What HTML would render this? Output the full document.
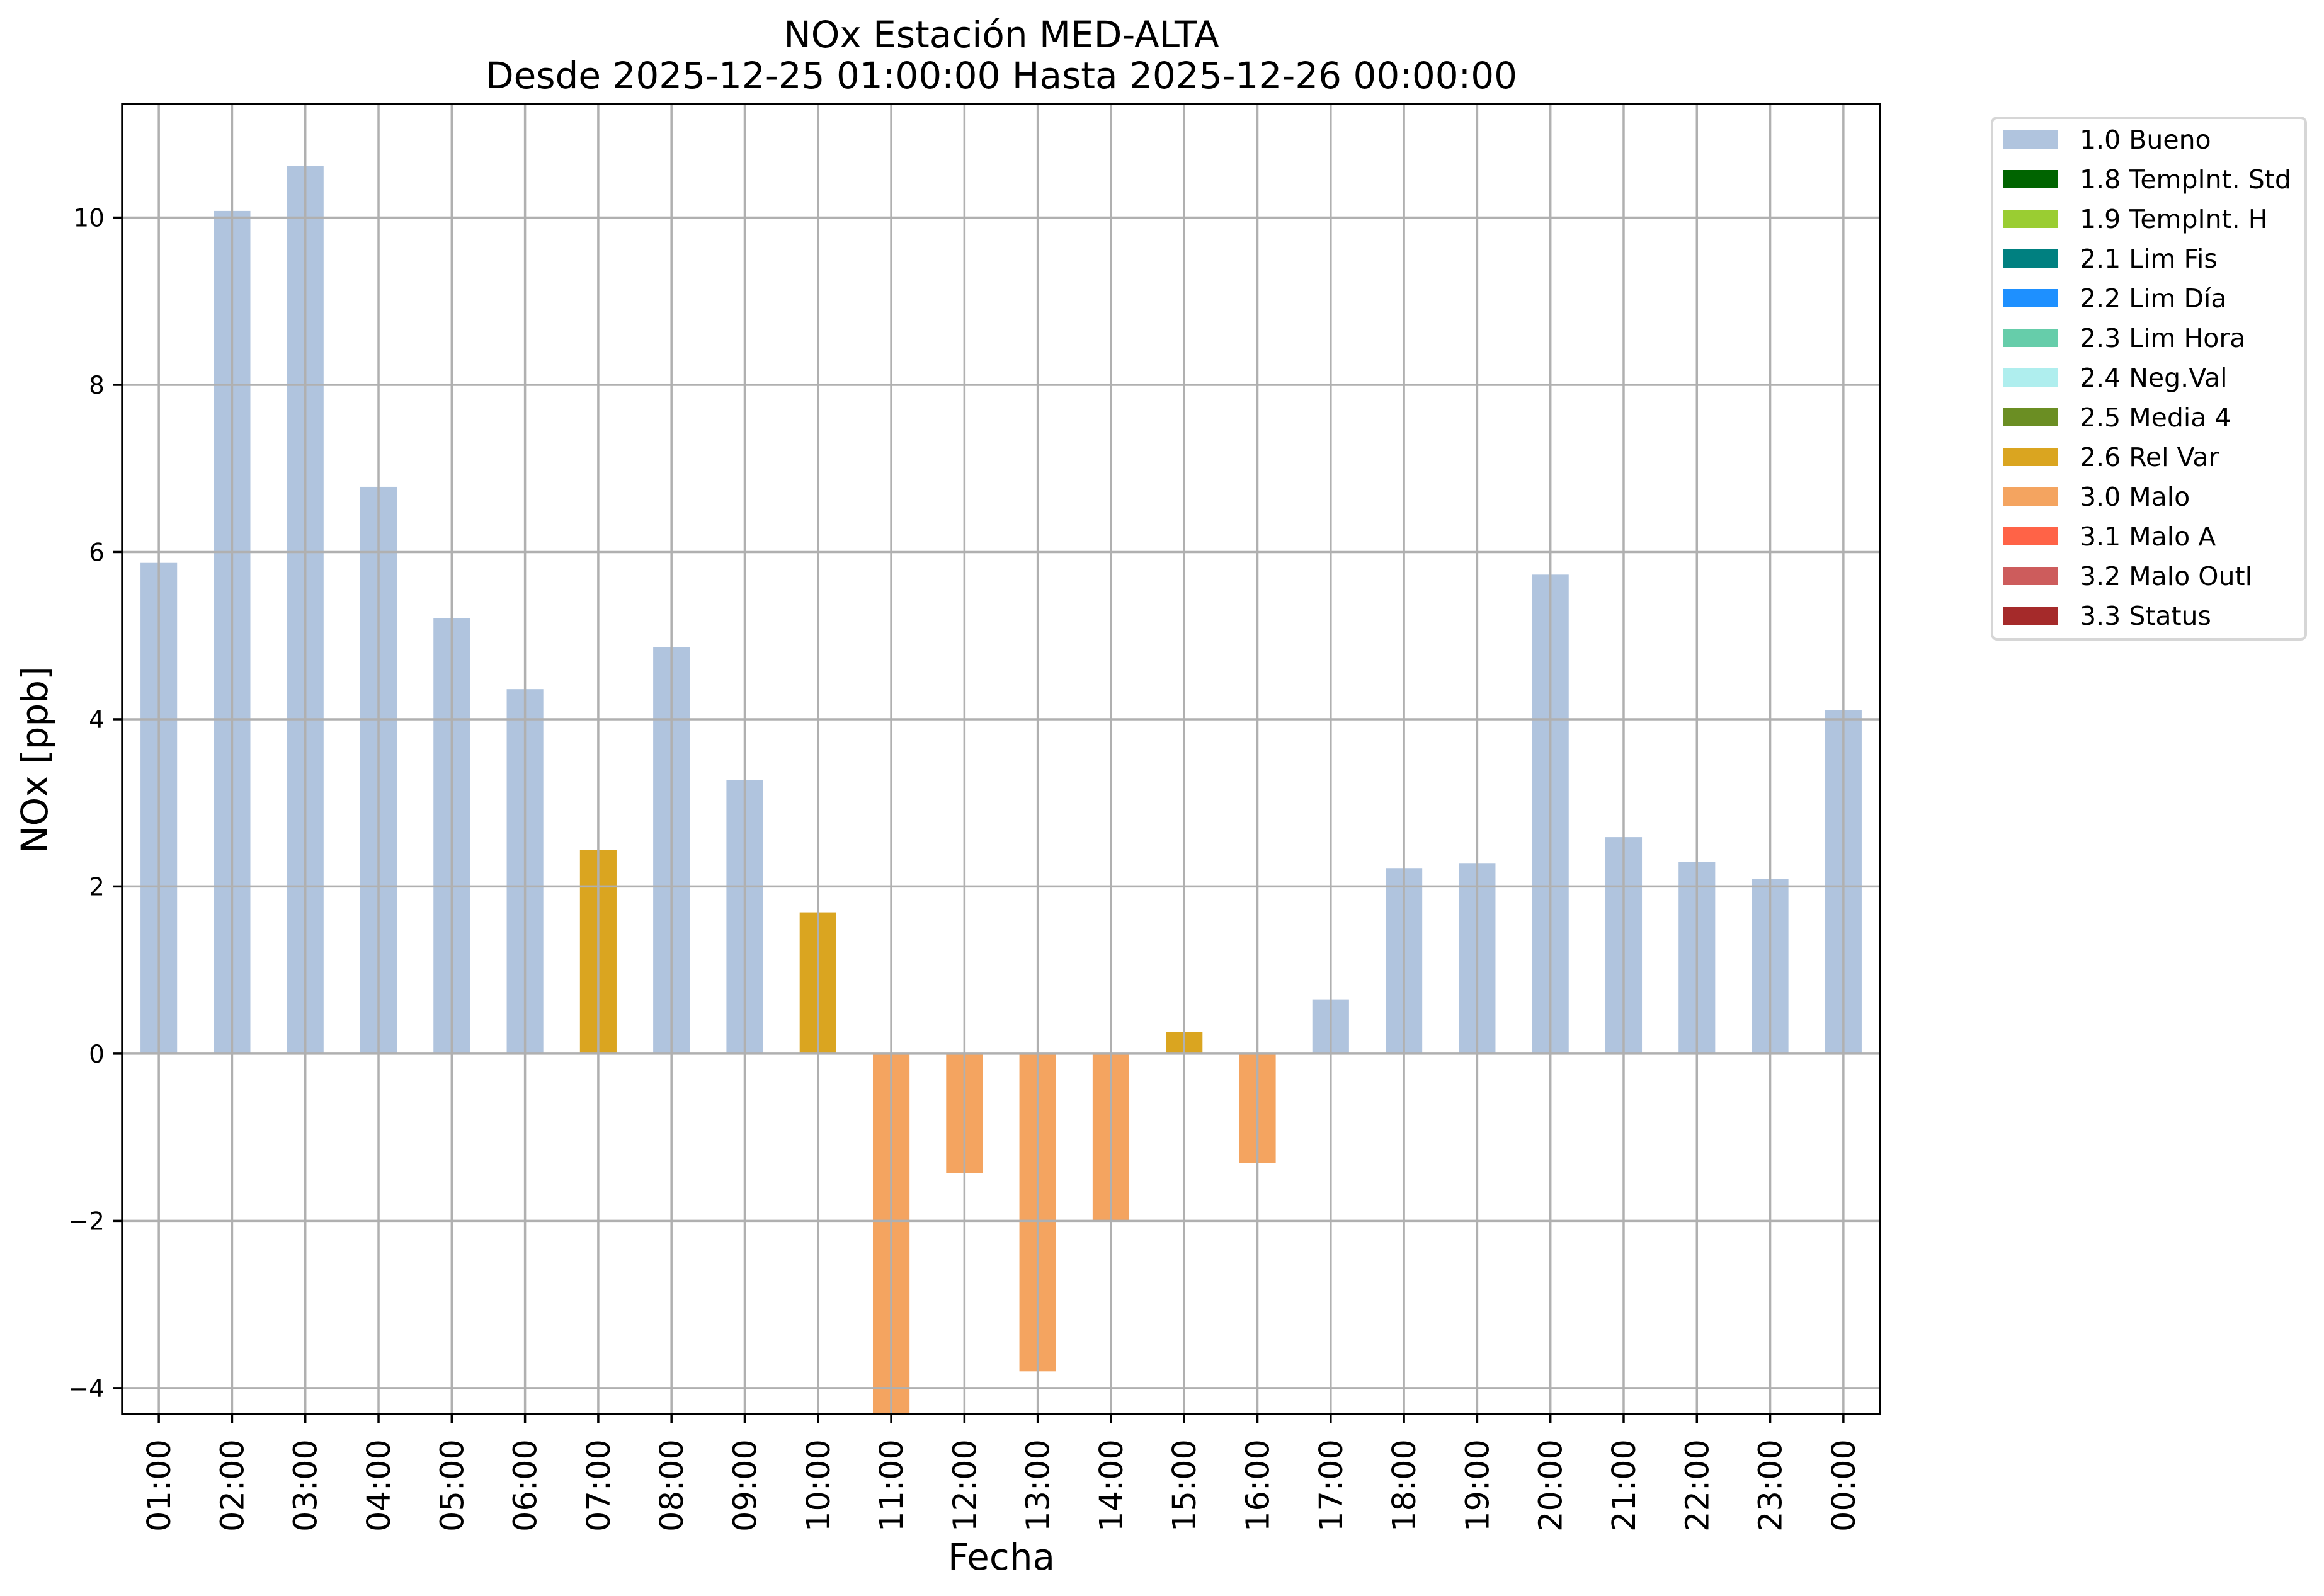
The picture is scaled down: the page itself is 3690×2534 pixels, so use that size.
<!DOCTYPE html>
<html><head><meta charset="utf-8"><style>
html,body{margin:0;padding:0;background:#fff;}
svg{display:block;font-family:"DejaVu Sans","Liberation Sans",sans-serif;}
</style></head><body>
<svg id="chart" width="3690" height="2534" viewBox="0 0 3690 2534" xmlns="http://www.w3.org/2000/svg">
<rect width="3690" height="2534" fill="#fff"/>
<text x="1590" y="75" font-size="58" text-anchor="middle">NOx Estación MED-ALTA</text>
<text x="1590" y="140" font-size="58" text-anchor="middle">Desde 2025-12-25 01:00:00 Hasta 2025-12-26 00:00:00</text>
<g id="bars"></g>
<g id="grid"></g>
<g id="axes"></g>
<text x="1590" y="2492" font-size="58" text-anchor="middle">Fecha</text>
<text transform="translate(75,1206) rotate(-90)" font-size="58" text-anchor="middle">NOx [ppb]</text>
<g id="legend"></g>
</svg>
<script>
const categories = ["01:00","02:00","03:00","04:00","05:00","06:00","07:00","08:00","09:00","10:00","11:00","12:00","13:00","14:00","15:00","16:00","17:00","18:00","19:00","20:00","21:00","22:00","23:00","00:00"];
const values = [5.87,10.08,10.62,6.78,5.21,4.36,2.44,4.86,3.27,1.69,-4.4,-1.43,-3.8,-2.01,0.26,-1.31,0.65,2.22,2.28,5.73,2.59,2.29,2.09,4.11];
const flags = ["1.0","1.0","1.0","1.0","1.0","1.0","2.6","1.0","1.0","2.6","3.0","3.0","3.0","3.0","2.6","3.0","1.0","1.0","1.0","1.0","1.0","1.0","1.0","1.0"];
const yTicks = [-4,-2,0,2,4,6,8,10];
const yTickLabels = ["\u22124","\u22122","0","2","4","6","8","10"];
const legendLabels = ["1.0 Bueno","1.8 TempInt. Std","1.9 TempInt. H","2.1 Lim Fis","2.2 Lim Día","2.3 Lim Hora","2.4 Neg.Val","2.5 Media 4","2.6 Rel Var","3.0 Malo","3.1 Malo A","3.2 Malo Outl","3.3 Status"];
const legendCodes = ["1.0","1.8","1.9","2.1","2.2","2.3","2.4","2.5","2.6","3.0","3.1","3.2","3.3"];
const legendColors = ["#b0c4de","#006400","#9acd32","#008080","#1e90ff","#66cdaa","#afeeee","#6b8e23","#daa520","#f4a460","#ff6347","#cd5c5c","#a52a2a"];

const NS="http://www.w3.org/2000/svg";
const L=194,R=2985,T=165,B=2245;
const yMin=-4.31,yMax=11.36;
const n=categories.length;
const step=(R-L)/n;
const xScale=i=>L+(i+0.5)*step;
const yScale=v=>B-(v-yMin)/(yMax-yMin)*(B-T);
function mk(tag,attrs,parent){const e=document.createElementNS(NS,tag);for(const k in attrs)e.setAttribute(k,attrs[k]);parent.appendChild(e);return e;}
const colorOf=c=>legendColors[legendCodes.indexOf(c)];

const clip=mk('clipPath',{id:'pc'},document.getElementById('chart'));
mk('rect',{x:L,y:T,width:R-L,height:B-T},clip);
const bars=document.getElementById('bars');
bars.setAttribute('clip-path','url(#pc)');
values.forEach((v,i)=>{
  const y0=yScale(0),y1=yScale(v);
  const r=mk('rect',{x:xScale(i)-step/4,y:Math.min(y0,y1),width:step/2,height:Math.abs(y1-y0),fill:colorOf(flags[i])},bars);
  
  
});
const grid=document.getElementById('grid');
categories.forEach((c,i)=>{
  const l=mk('line',{x1:xScale(i),x2:xScale(i),y1:T,y2:B,stroke:'#b0b0b0','stroke-width':3.5},grid);
  
  
});
yTicks.forEach(t=>{
  const l=mk('line',{x1:L,x2:R,y1:yScale(t),y2:yScale(t),stroke:'#b0b0b0','stroke-width':3.5},grid);
  
  
});
const axes=document.getElementById('axes');
const frame=mk('rect',{x:L,y:T,width:R-L,height:B-T,fill:'none',stroke:'#000','stroke-width':3.5},axes);


yTicks.forEach((t,k)=>{
  mk('line',{x1:L-15,x2:L,y1:yScale(t),y2:yScale(t),stroke:'#000','stroke-width':3.5},axes);
  const tx=mk('text',{x:L-28,y:yScale(t)+14,'font-size':39,'text-anchor':'end'},axes);
  tx.textContent=yTickLabels[k];
  
  
});
categories.forEach((c,i)=>{
  const x=xScale(i);
  mk('line',{x1:x,x2:x,y1:B,y2:B+15,stroke:'#000','stroke-width':3.5},axes);
  const tx=mk('text',{transform:`translate(${x+18},2285) rotate(-90)`,'font-size':51,'text-anchor':'end'},axes);
  tx.textContent=c;
  
  
});
const lg=document.getElementById('legend');
const box=mk('rect',{x:3163,y:187,width:498,height:828,rx:8,fill:'#fff',stroke:'#d6d6d6','stroke-width':4},lg);


legendLabels.forEach((lab,k)=>{
  const y=207+k*63;
  const p=mk('rect',{x:3181,y:y,width:86,height:29,fill:legendColors[k]},lg);
  
  
  const tx=mk('text',{x:3302,y:y+29,'font-size':41},lg);
  tx.textContent=lab;
  
  
});
</script>
</body></html>
